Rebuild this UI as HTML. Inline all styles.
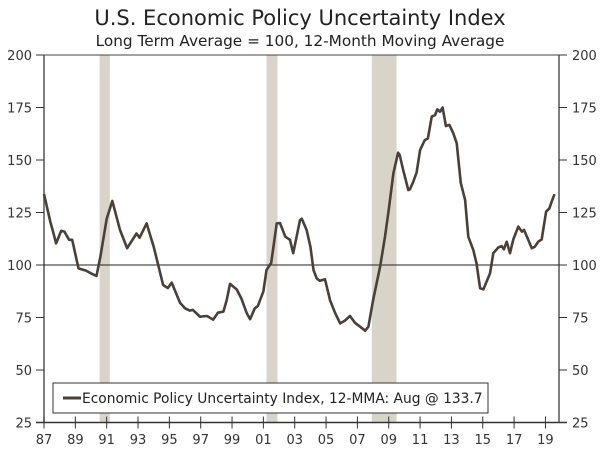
<!DOCTYPE html>
<html><head><meta charset="utf-8"><style>
body{margin:0;background:#fff;font-family:"Liberation Sans",Verdana,sans-serif}
svg text{font-family:"DejaVu Sans","Liberation Sans",sans-serif}
</style></head><body>
<svg id="c" width="600" height="449" xmlns="http://www.w3.org/2000/svg">
<text x="300" y="25" text-anchor="middle" font-size="21" fill="#222">U.S. Economic Policy Uncertainty Index</text>
<text x="300" y="46" text-anchor="middle" font-size="15.3" fill="#222">Long Term Average = 100, 12-Month Moving Average</text>
<g id="rec"></g><g id="axes"></g><g id="series"></g>
<g>
<rect x="53" y="383" width="435" height="30" fill="#fff" stroke="#333" stroke-width="1"/>
<line x1="63" y1="398" x2="81" y2="398" stroke="#4a4038" stroke-width="3"/>
<text x="82" y="403" font-size="13.8" fill="#222">Economic Policy Uncertainty Index, 12-MMA: Aug @ 133.7</text>
</g>
</svg>
<script>
const years=[1987,1987.4,1987.55,1987.77,1988.1,1988.3,1988.6,1988.8,1989.2,1989.7,1990.0,1990.35,1990.6,1991.0,1991.36,1991.85,1992.3,1992.9,1993.1,1993.55,1994.0,1994.6,1994.9,1995.15,1995.68,1996.0,1996.3,1996.5,1996.95,1997.4,1997.8,1998.1,1998.45,1998.66,1998.87,1999.3,1999.6,1999.94,2000.15,2000.45,2000.65,2001.0,2001.2,2001.5,2001.85,2002.06,2002.4,2002.7,2002.9,2003.34,2003.45,2003.76,2004.0,2004.2,2004.4,2004.6,2004.93,2005.25,2005.57,2005.9,2006.2,2006.53,2006.85,2007.17,2007.5,2007.7,2008.0,2008.45,2008.76,2009.0,2009.3,2009.6,2009.7,2009.93,2010.25,2010.35,2010.57,2010.78,2011.0,2011.3,2011.5,2011.74,2011.95,2012.1,2012.27,2012.44,2012.65,2012.87,2013.12,2013.34,2013.6,2013.87,2014.08,2014.4,2014.6,2014.83,2015.04,2015.46,2015.67,2016.0,2016.2,2016.35,2016.53,2016.74,2016.95,2017.27,2017.5,2017.63,2017.9,2018.13,2018.33,2018.54,2018.76,2019.04,2019.25,2019.4,2019.58];
const values=[133.8,120.6,116.7,110.3,116.3,115.9,112,112,98.4,97.3,96,94.8,104,122,130.5,116.7,108,115,113,119.8,108.7,90.5,89,91.6,82,79.4,78.3,78.6,75.4,75.7,74,77.3,77.8,83.3,91,88.4,84,77,74.2,79.4,80.5,87.5,97.6,101,119.8,120,113.5,112,105.6,121.4,122,116.7,108.7,97.6,93.6,92.5,93.2,83.3,77.3,72.2,73.5,75.7,72.5,70.6,68.7,70.6,83.3,99.2,113.5,126.2,143.7,153.5,152.4,145,135.7,136,139.7,144,154.8,159.5,160.3,170.6,171.4,174.1,173,175,166.2,166.7,162.7,158,139,131,113.5,107,100.8,88.9,88.4,96,105.6,108.4,109,107.5,111.1,105.6,112.2,118.3,115.9,116.7,112,108,108.7,111.1,112.2,125.4,127,130.2,133.7];
const recessions=[[1990.55,1991.2],[2001.2,2001.9],[2007.92,2009.5]];
const yTicks=[25,50,75,100,125,150,175,200];
const xTickLabels=["87","89","91","93","95","97","99","01","03","05","07","09","11","13","15","17","19"];
const NS='http://www.w3.org/2000/svg';
const L=44,R=559,T=55,B=422.5;
const xs=y=>L+(y-1987)*15.67;
const ys=v=>T+(200-v)*(B-T)/175;
function mk(tag,at,parent){const e=document.createElementNS(NS,tag);for(const k in at)e.setAttribute(k,at[k]);parent.appendChild(e);return e;}
const rec=document.getElementById('rec'),ax=document.getElementById('axes'),se=document.getElementById('series');
recessions.forEach(r=>{const e=mk('rect',{x:xs(r[0]),y:T,width:xs(r[1])-xs(r[0]),height:B-T,fill:'#d9d4ca'},rec);

});
let e=mk('line',{x1:L,y1:T,x2:R,y2:T,stroke:'#444','stroke-width':1},ax);

e=mk('line',{x1:L,y1:T,x2:L,y2:B,stroke:'#555','stroke-width':1.5},ax);

e=mk('line',{x1:R,y1:T,x2:R,y2:B,stroke:'#555','stroke-width':1.5},ax);

e=mk('line',{x1:L-8,y1:B,x2:R+8,y2:B,stroke:'#333','stroke-width':1.5},ax);

e=mk('line',{x1:L,y1:ys(100),x2:R,y2:ys(100),stroke:'#222','stroke-width':1},ax);

yTicks.forEach(v=>{const y=ys(v);
mk('line',{x1:L-8,y1:y,x2:L,y2:y,stroke:'#333'},ax);
mk('line',{x1:R,y1:y,x2:R+8,y2:y,stroke:'#333'},ax);
let t=mk('text',{x:32,y:y+5,'text-anchor':'end','font-size':13,fill:'#333'},ax);t.textContent=v;

t=mk('text',{x:572,y:y+5,'font-size':13,fill:'#333'},ax);t.textContent=v;
});
xTickLabels.forEach((lab,i)=>{const x=xs(1987+2*i);
mk('line',{x1:x,y1:B-6,x2:x,y2:B+6,stroke:'#333'},ax);
const t=mk('text',{x:x,y:444,'text-anchor':'middle','font-size':13,fill:'#333'},ax);t.textContent=lab;
});
const d=years.map((y,i)=>(i?'L':'M')+xs(y).toFixed(1)+','+ys(values[i]).toFixed(1)).join('');
const p=mk('path',{d:d,fill:'none',stroke:'#4a4038','stroke-width':2.6,'stroke-linejoin':'round'},se);


</script>
</body></html>
